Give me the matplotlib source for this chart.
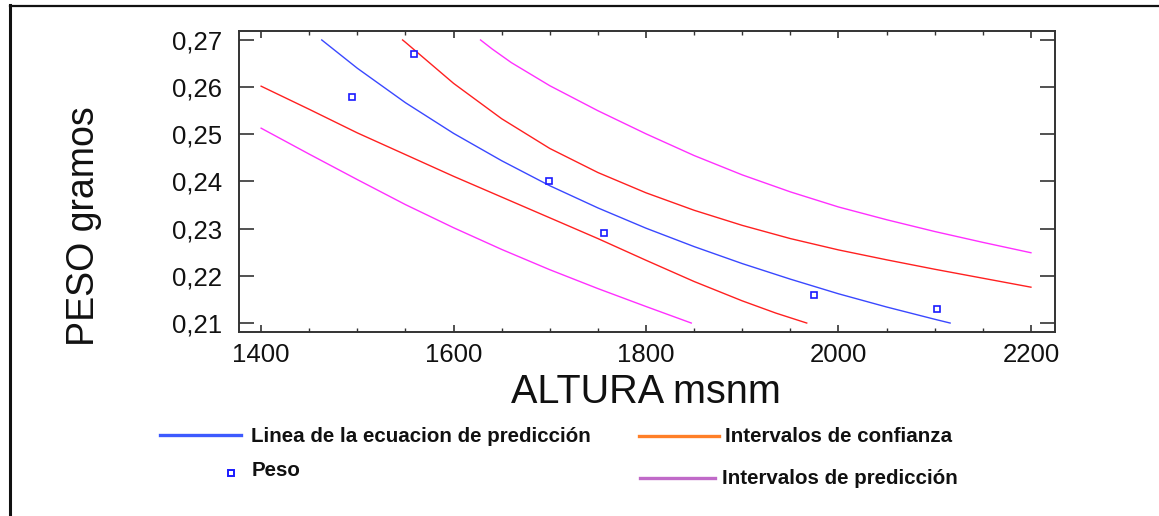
import matplotlib.pyplot as plt
from matplotlib.lines import Line2D
from matplotlib.ticker import MultipleLocator

plt.rcParams['font.family'] = ['Liberation Sans', 'DejaVu Sans']

W, H = 1159, 516

# observed data (Peso vs altura)
altura = [1494, 1559, 1699, 1756, 1975, 2102]
peso = [0.258, 0.267, 0.240, 0.229, 0.216, 0.213]

# fitted line
fit_x = [1463, 1500, 1550, 1600, 1650, 1700, 1750, 1800, 1850, 1900, 1950, 2000, 2050, 2100, 2116]
fit_y = [0.2700, 0.2640, 0.2567, 0.2502, 0.2444, 0.2391, 0.2344, 0.2301, 0.2262, 0.2226,
         0.2193, 0.2162, 0.2134, 0.2108, 0.2100]

# confidence limits
conf_up_x = [1547, 1550, 1600, 1650, 1700, 1750, 1800, 1850, 1900, 1950, 2000, 2050, 2100, 2150, 2200]
conf_up_y = [0.2700, 0.2695, 0.2608, 0.2533, 0.2470, 0.2419, 0.2376, 0.2339, 0.2307, 0.2279,
             0.2255, 0.2234, 0.2214, 0.2195, 0.2176]
conf_lo_x = [1400, 1450, 1500, 1550, 1600, 1650, 1700, 1750, 1800, 1850, 1900, 1935, 1967]
conf_lo_y = [0.2602, 0.2553, 0.2503, 0.2457, 0.2411, 0.2367, 0.2323, 0.2279, 0.2233, 0.2188,
             0.2147, 0.2121, 0.2100]

# prediction limits
pred_up_x = [1628, 1640, 1660, 1700, 1750, 1800, 1850, 1900, 1950, 2000, 2050, 2100, 2150, 2200]
pred_up_y = [0.2700, 0.2681, 0.2652, 0.2603, 0.2550, 0.2501, 0.2455, 0.2414, 0.2378, 0.2346,
             0.2319, 0.2294, 0.2271, 0.2249]
pred_lo_x = [1400, 1450, 1500, 1550, 1600, 1650, 1700, 1750, 1800, 1847]
pred_lo_y = [0.2513, 0.2458, 0.2404, 0.2351, 0.2302, 0.2256, 0.2213, 0.2173, 0.2135, 0.2100]

xticks = [1400, 1600, 1800, 2000, 2200]
yticks = [0.21, 0.22, 0.23, 0.24, 0.25, 0.26, 0.27]
ytick_labels = ["0,21", "0,22", "0,23", "0,24", "0,25", "0,26", "0,27"]


def fx(px):
    return px / W


def fy(py):
    return 1 - py / H


fig = plt.figure(figsize=(W / 100, H / 100), dpi=100)
ax = fig.add_axes([fx(239), fy(332), 816 / W, 301 / H])

ax.plot(pred_up_x, pred_up_y, color='#ff30ff', lw=1.0)
ax.plot(pred_lo_x, pred_lo_y, color='#ff30ff', lw=1.0)
ax.plot(conf_up_x, conf_up_y, color='#ff2020', lw=1.0)
ax.plot(conf_lo_x, conf_lo_y, color='#ff2020', lw=1.0)
ax.plot(fit_x, fit_y, color='#3a48ff', lw=1.0)
ax.plot(altura, peso, ls='none', marker='s', ms=4.5, mfc='white', mec='#1a1aff', mew=1.2)

ax.set_xlim(1377, 2225)
ax.set_ylim(0.2081, 0.2719)
ax.set_xticks(xticks)
ax.set_yticks(yticks)
ax.set_yticklabels(ytick_labels)
ax.xaxis.set_minor_locator(MultipleLocator(50))

ax.tick_params(axis='y', which='major', direction='in', length=11, width=1.2,
               left=True, right=True, labelsize=18.5, pad=12, colors='#333333', labelcolor='#111111')
ax.tick_params(axis='x', which='major', direction='in', length=5, width=1.2,
               top=True, bottom=True, labelsize=18.5, pad=8, colors='#333333', labelcolor='#111111')
ax.tick_params(axis='x', which='minor', direction='in', length=3, width=1.0,
               top=True, bottom=True, colors='#333333')
for s in ax.spines.values():
    s.set_color('#333333')
    s.set_linewidth(1.4)

fig.text(fx(84), fy(226), "PESO gramos", rotation=90, fontsize=27,
         ha='center', va='center', color='#111111')
fig.text(fx(646), fy(392), "ALTURA msnm", fontsize=28.5,
         ha='center', va='center', color='#111111')

# outer frame (left and top edges visible)
fig.add_artist(Line2D([fx(10), fx(10)], [fy(5), 0], transform=fig.transFigure,
                      color='#111111', lw=2.2))
fig.add_artist(Line2D([fx(10), 1], [fy(5.5), fy(5.5)], transform=fig.transFigure,
                      color='#111111', lw=1.6))

# legend
fig.add_artist(Line2D([fx(160), fx(241)], [fy(435), fy(435)], transform=fig.transFigure,
                      color='#3d5afe', lw=2.4))
fig.text(fx(251), fy(436), "Linea de la ecuacion de predicción", fontsize=14.8,
         fontweight='bold', ha='left', va='center', color='#111111')
fig.add_artist(Line2D([fx(231)], [fy(473)], transform=fig.transFigure, ls='none',
                      marker='s', ms=5, mfc='white', mec='#1a1aff', mew=1.4))
fig.text(fx(252), fy(471), "Peso", fontsize=14.8, fontweight='bold',
         ha='left', va='center', color='#111111')
fig.add_artist(Line2D([fx(639), fx(719)], [fy(436), fy(436)], transform=fig.transFigure,
                      color='#ff7f27', lw=2.4))
fig.text(fx(725), fy(437), "Intervalos de confianza", fontsize=14.8,
         fontweight='bold', ha='left', va='center', color='#111111')
fig.add_artist(Line2D([fx(640), fx(715)], [fy(478), fy(478)], transform=fig.transFigure,
                      color='#c06ac8', lw=2.4))
fig.text(fx(722), fy(479), "Intervalos de predicción", fontsize=14.8,
         fontweight='bold', ha='left', va='center', color='#111111')

plt.savefig("out.png", dpi=100)
